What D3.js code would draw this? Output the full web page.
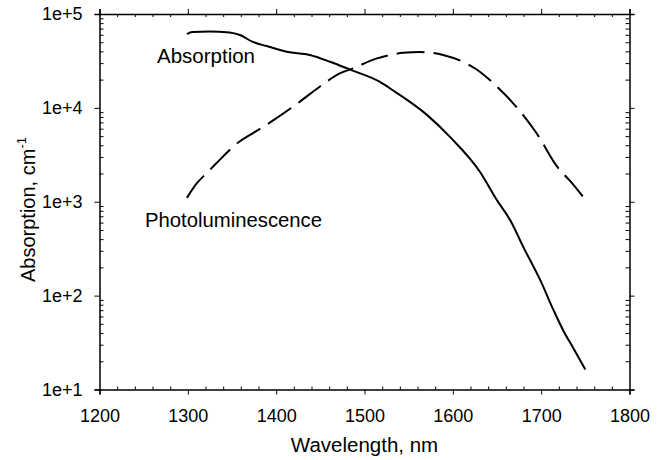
<!DOCTYPE html>
<html lang="en">
<head>
  <meta charset="utf-8">
  <script src="https://d3js.org/d3.v7.min.js"></script>
  <style>
    body { margin: 0; background: #fff; }
    text { font-family: "Liberation Sans", Arial, Helvetica, sans-serif; fill: #000; }
    .axis path, .axis line { stroke: #000; }
  </style>
</head>
<body>
<script>

var width = 663,
    height = 460;

// wavelength (nm) and absorption (cm^-1)
var absWave = [1299, 1305, 1325, 1347, 1359, 1373, 1389, 1412, 1438, 1461, 1483, 1517, 1532,
               1571, 1597, 1631, 1650, 1665, 1680, 1699, 1714, 1725, 1736, 1750];
var absValue = [61200, 64300, 65000, 63600, 59700, 50700, 45600, 39700, 36600, 31000, 25700, 19000, 15400,
                8370, 4880, 2065, 1038, 635, 327, 146, 70, 42.6, 28, 16.3];

var plWave = [1299, 1310, 1321, 1332, 1359, 1370, 1397, 1425, 1450, 1472, 1487, 1514, 1521,
              1544, 1563, 1589, 1627, 1650, 1665, 1695, 1719, 1733, 1750];
var plValue = [1100, 1565, 2000, 2555, 4415, 5120, 7390, 11300, 17000, 23300, 26350, 33650, 35060,
               38600, 39300, 36560, 25600, 16800, 12100, 5330, 2305, 1655, 1050];

var xMajor = [1200, 1300, 1400, 1500, 1600, 1700, 1800];
var xMinor = [1220, 1240, 1260, 1280, 1320, 1340, 1360, 1380, 1420, 1440, 1460, 1480,
              1520, 1540, 1560, 1580, 1620, 1640, 1660, 1680, 1720, 1740, 1760, 1780];
var yMajor = [1e1, 1e2, 1e3, 1e4, 1e5];
var yLabels = ["1e+1", "1e+2", "1e+3", "1e+4", "1e+5"];
var yMinor = [20, 30, 40, 50, 60, 70, 80, 90, 200, 300, 400, 500, 600, 700, 800, 900,
              2000, 3000, 4000, 5000, 6000, 7000, 8000, 9000,
              20000, 30000, 40000, 50000, 60000, 70000, 80000, 90000];

var pLeft = 99.5, pRight = 629.5, pTop = 14, pBottom = 389.5;

var x = d3.scaleLinear().domain([1200, 1800]).range([pLeft, pRight]);
var y = d3.scaleLog().domain([10, 1e5]).range([pBottom, pTop]);

var svg = d3.select("body").append("svg")
    .attr("width", width)
    .attr("height", height);

// bottom axis: major ticks out, minor in
svg.append("g").attr("class", "axis")
    .attr("transform", "translate(0," + pBottom + ")")
    .call(d3.axisBottom(x).tickValues(xMajor).tickSize(5).tickPadding(15).tickFormat(d3.format("d")))
    .selectAll("text").attr("font-size", 18);
svg.append("g").attr("class", "axis minor")
    .attr("transform", "translate(0," + pBottom + ")")
    .call(d3.axisTop(x).tickValues(xMinor).tickSize(3).tickFormat(""));

// top axis
svg.append("g").attr("class", "axis")
    .attr("transform", "translate(0," + pTop + ")")
    .call(d3.axisTop(x).tickValues(xMajor).tickSize(5).tickFormat(""));
svg.append("g").attr("class", "axis minor")
    .attr("transform", "translate(0," + pTop + ")")
    .call(d3.axisBottom(x).tickValues(xMinor).tickSize(3).tickFormat(""));

// left axis
svg.append("g").attr("class", "axis")
    .attr("transform", "translate(" + pLeft + ",0)")
    .call(d3.axisLeft(y).tickValues(yMajor).tickSize(5).tickPadding(12)
      .tickFormat(function(d, i) { return yLabels[i]; }))
    .selectAll("text").attr("font-size", 18);
svg.append("g").attr("class", "axis minor")
    .attr("transform", "translate(" + pLeft + ",0)")
    .call(d3.axisRight(y).tickValues(yMinor).tickSize(4).tickFormat(""));

// right axis
svg.append("g").attr("class", "axis")
    .attr("transform", "translate(" + pRight + ",0)")
    .call(d3.axisRight(y).tickValues(yMajor).tickSize(5).tickFormat(""));
svg.append("g").attr("class", "axis minor")
    .attr("transform", "translate(" + pRight + ",0)")
    .call(d3.axisLeft(y).tickValues(yMinor).tickSize(4).tickFormat(""));

svg.selectAll(".minor .domain").remove();
svg.selectAll(".axis .domain").attr("stroke-width", 1.5);

var line = d3.line()
    .x(function(d) { return x(d[0]); })
    .y(function(d) { return y(d[1]); })
    .curve(d3.curveMonotoneX);

svg.append("path")
    .datum(d3.zip(absWave, absValue))
    .attr("d", line)
    .attr("fill", "none")
    .attr("stroke", "#000")
    .attr("stroke-width", 2);

svg.append("path")
    .datum(d3.zip(plWave, plValue))
    .attr("d", line)
    .attr("fill", "none")
    .attr("stroke", "#000")
    .attr("stroke-width", 2)
    .attr("stroke-dasharray", "28,9");

// curve labels
svg.append("text")
    .attr("x", 157).attr("y", 63)
    .attr("font-size", 20.5)
    .text("Absorption");

svg.append("text")
    .attr("x", 145).attr("y", 227)
    .attr("font-size", 20.3)
    .text("Photoluminescence");

// axis titles
svg.append("text")
    .attr("x", (pLeft + pRight) / 2).attr("y", 452)
    .attr("text-anchor", "middle")
    .attr("font-size", 20.5)
    .text("Wavelength, nm");

var yt = svg.append("text")
    .attr("transform", "translate(35,282) rotate(-90)")
    .attr("font-size", 20);
yt.append("tspan").text("Absorption, cm");
yt.append("tspan").attr("dy", -9).attr("font-size", 13).text("-1");

</script>
</body>
</html>
